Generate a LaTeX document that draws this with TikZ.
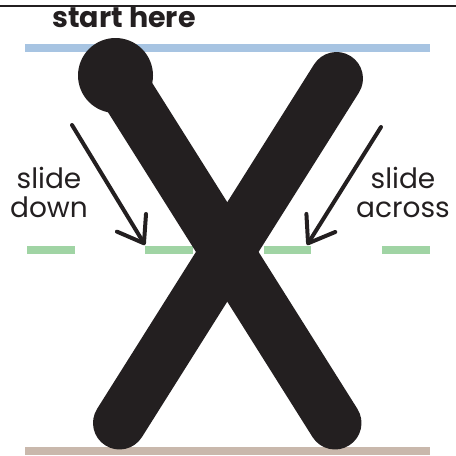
\documentclass[tikz,border=0pt]{standalone}
\usepackage{fontspec}
\setmainfont{Poppins}
\usetikzlibrary{arrows.meta}
\definecolor{inkblack}{RGB}{35,31,32}
\definecolor{topblue}{RGB}{167,196,226}
\definecolor{midgreen}{RGB}{160,212,164}
\definecolor{basebrown}{RGB}{201,184,172}
\tikzset{
  guide/.style={line width=8pt},
  xstroke/.style={line width=53pt, line cap=round, draw=inkblack},
  slidearrow/.style={line width=4pt, draw=inkblack, line cap=round, line join=round,
    -{Straight Barb[length=24pt,width=34pt,line cap=round,line join=round]}},
  lbl/.style={font=\fontsize{28pt}{29pt}\selectfont, text=inkblack, inner sep=0pt, anchor=base},
}
\begin{document}
\begin{tikzpicture}[x=1pt,y=-1pt]
\useasboundingbox (0,0) rectangle (456,456);
% top rule
\draw[line width=2.5pt, draw=inkblack] (0,6) -- (456,6);
\node[lbl, font=\fontsize{28.5pt}{30pt}\selectfont\bfseries] (start) at (124,27) {start here};
% guide lines
\draw[guide, draw=topblue] (25,48) -- (430,48);
\draw[guide, draw=midgreen, dash pattern=on 47.7pt off 70.6pt] (27,250) -- (430,250);
\draw[guide, draw=basebrown] (25,451) -- (430,451);
% the X
\coordinate (ltop) at (116.5,76);
\coordinate (lbot) at (335,423);
\coordinate (rtop) at (336.5,78.5);
\coordinate (rbot) at (119.5,423);
\draw[xstroke] (ltop) -- (lbot);
\draw[xstroke] (rtop) -- (rbot);
\fill[inkblack] (115.5,75.5) circle[radius=37.5];
% labels
\node[lbl] (sd1) at (49,188) {slide};
\node[lbl] (sd2) at (49,217) {down};
\node[lbl] (sa1) at (403,188) {slide};
\node[lbl] (sa2) at (403,217) {across};
% arrows
\coordinate (a1s) at (72,125);
\coordinate (a1e) at (145,245);
\coordinate (a2s) at (381,127);
\coordinate (a2e) at (307,245);
\draw[slidearrow] (a1s) -- (a1e);
\draw[slidearrow] (a2s) -- (a2e);
\end{tikzpicture}
\end{document}
